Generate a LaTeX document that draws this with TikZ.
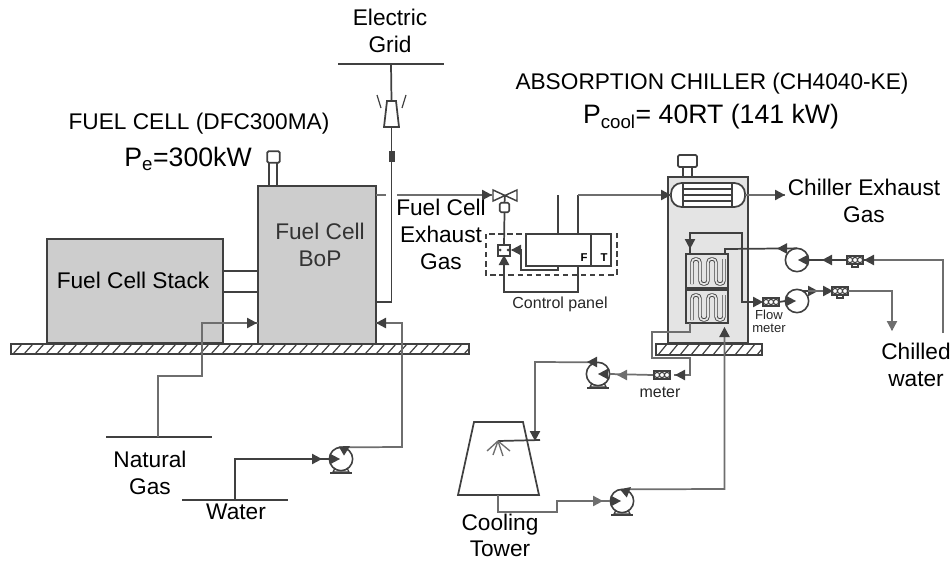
\documentclass[tikz,border=0pt]{standalone}
\usepackage{fontspec}
\setmainfont{Liberation Sans}
\usetikzlibrary{arrows.meta,calc}
\definecolor{pipedark}{HTML}{404040}
\definecolor{pipegrey}{HTML}{6E6E6E}
\definecolor{blockfill}{HTML}{CDCDCD}
\definecolor{chillfill}{HTML}{E4E4E4}
\tikzset{
  x=0.75pt,y=-0.75pt,
  pipe/.style={draw=pipedark,line width=1.3pt},
  pipeg/.style={draw=pipegrey,line width=1.3pt},
  thinp/.style={draw=pipedark,line width=1pt},
  blockbox/.style={draw=pipedark,line width=1.4pt,fill=blockfill,inner sep=0pt,outer sep=0pt},
  plainbox/.style={draw=pipedark,line width=1.3pt,fill=white,inner sep=0pt,outer sep=0pt},
  pumpc/.style={circle,draw=pipedark,line width=1.2pt,fill=white,inner sep=0pt,outer sep=0pt,minimum size=17.5pt},
  lab/.style={inner sep=0pt,align=center,text=black,font=\fontsize{17}{20.2}\selectfont},
  labline/.style={inner sep=0pt,text=black,font=\fontsize{17}{17}\selectfont,anchor=base},
  labbig/.style={inner sep=0pt,align=center,text=black,font=\fontsize{20}{24}\selectfont},
  labsmall/.style={inner sep=0pt,align=center,text=black!85,font=\fontsize{12}{12}\selectfont},
  labtiny/.style={inner sep=0pt,align=center,text=black!85,font=\fontsize{9.8}{9.5}\selectfont},
  coil/.style={draw=pipedark,line width=2.6pt,rounded corners=2.6pt},
  coilin/.style={draw=chillfill,line width=1.3pt,rounded corners=2.6pt},
}
\newcommand{\smalltip}[4][pipedark]{\fill[#1,shift={(#2,#3)},rotate=#4] (0,0) -- (-7.5pt,-4pt) -- (-7.5pt,4pt) -- cycle;}
\newcommand{\floorhatch}[4]{%
  \begin{scope}
    \clip (#1,#2) rectangle (#3,#4);
    \foreach \h in {-20,-9,...,800}{
      \draw[pipedark,line width=0.9pt] ({#1+\h},#4) -- ({#1+\h+9},#2);
    }
  \end{scope}
  \draw[pipedark,line width=1.3pt] (#1,#2) rectangle (#3,#4);
}
\newcommand{\pumpbase}[2]{%
  \draw[pipedark,line width=1pt] (#1-6,#2+9) -- (#1-8,#2+13) -- (#1+8,#2+13) -- (#1+6,#2+9);
  \draw[pipedark,line width=1.3pt] (#1-11,#2+14) -- (#1+11,#2+14);
}
\newcommand{\metersym}[2]{%
  \draw[pipedark,line width=1pt,fill=white] (#1-8,#2-4) rectangle (#1+8,#2+4);
  \foreach \m in {-5,0,5}{\draw[pipedark,line width=0.8pt] (#1+\m,#2) circle[radius=2.6];}
}
\begin{document}
\begin{tikzpicture}
\useasboundingbox (0,0) rectangle (952,560);

% floors
\floorhatch{11}{344}{469}{354}

% Fuel cell blocks
\node[blockbox,minimum width=132pt,minimum height=78pt] (stack) at (135,291) {};
\node[blockbox,minimum width=88.5pt,minimum height=118.5pt] (bop) at (317,265) {};
\draw[pipe] ($(stack.north east)+(0,32)$) -- ($(bop.north west)+(0,85)$);
\draw[pipe] ($(stack.north east)+(0,53)$) -- ($(bop.north west)+(0,106)$);
% chimney
\node[plainbox,minimum width=9.5pt,minimum height=8.5pt,rounded corners=1pt] (fccap) at (273.5,157) {};
\draw[pipe] (269,163) -- (269,186);
\draw[pipe] (277,163) -- (277,186);

\node[lab] (tstack) at (133,280) {Fuel Cell Stack};
\node[lab,text=black!80] (tbop) at (320,245) {Fuel Cell\\BoP};
\node[lab] (tfc) at (199,124) {FUEL CELL (DFC300MA)};
\node[labbig] (tpe) at (188,159) {P\textsubscript{e}=300kW};

% Electric grid
\node[lab] (tgrid) at (390,31) {Electric\\Grid};
\coordinate (gridl) at (338,64);
\coordinate (gridr) at (444,64);
\coordinate (gridm) at (391,64);
\draw[pipe] (gridl) -- (gridr);
\path[draw=pipedark,line width=1.3pt,fill=white] (387,101) -- (396,101) -- (399,127) -- (384,127) -- cycle;
\coordinate (trtop) at (391.5,101);
\coordinate (trbot) at (391.5,127);
\draw[pipedark,line width=0.9pt] (377,95) -- (381,108);
\draw[pipedark,line width=0.9pt] (406,95) -- (402,108);
\draw[pipe] (gridm) -- (trtop);
\coordinate (elin) at (bop.east |- 0,302);
\draw[pipe] (trbot) -- (391.5,302) -- (elin);
\draw[pipedark,line width=4.5pt] (391.5,151) -- (391.5,162);

% Fuel-cell exhaust line
\node[lab] (texh) at (441,234) {Fuel Cell\\Exhaust\\Gas};
\coordinate (bopex) at (bop.east |- 0,195);
\draw[pipeg] (bopex) -- (386,195);
\draw[pipeg] (397,195) -- (492,195);
\smalltip{492}{195}{0}

% three-way valve
\path[draw=pipedark,line width=1.1pt,fill=white] (493,190) -- (517,201) -- (517,190) -- (493,201) -- cycle;
\coordinate (vc) at (505,195);
\node[plainbox,minimum width=7pt,minimum height=7pt,rounded corners=1pt] (act) at (504.5,207.5) {};
\draw[pipe] (vc) -- (act.north);

% Control panel
\node[plainbox,minimum width=48.75pt,minimum height=24pt] (flowbox) at (558.5,250) {};
\node[plainbox,minimum width=15pt,minimum height=24pt] (tbox) at (601,250) {};
\draw[pipedark,line width=1.1pt,dash pattern=on 4pt off 2.8pt] (486,234) rectangle (617,275);
\node[font=\bfseries\fontsize{8.5}{9}\selectfont,inner sep=0pt] (tf) at (584,258) {F};
\node[font=\bfseries\fontsize{8.5}{9}\selectfont,inner sep=0pt] (tt) at (604,258) {T};
\node[plainbox,minimum width=8.5pt,minimum height=8pt] (posit) at (504,250.5) {};
\fill[pipedark] (500,250) circle[radius=1.5];
\fill[pipedark] (508,250) circle[radius=1.5];
\draw[pipe] (act.south) -- (posit.north);
\coordinate (tapa) at (558,195);
\coordinate (tapb) at (578,195);
\draw[pipe] (tapa) -- (tapa |- flowbox.north);
\draw[pipe] (tapb) -- (tapb |- flowbox.north);
\draw[pipe] (posit.south) -- (504,292) -- (578,292) -- (578,266);
\smalltip{504}{255}{90}
\draw[pipe] (558,266) -- (558,270) -- (521,270) -- (521,250) -- (512,250);
\smalltip{511}{250}{180}
\node[labsmall] (tcp) at (560,304) {Control panel};

% Chiller
\node[lab] (tabs) at (712,84) {ABSORPTION CHILLER (CH4040-KE)};
\node[labbig] (tpc) at (711,117) {P\textsubscript{cool}= 40RT (141 kW)};
\node[draw=pipedark,line width=1.3pt,fill=chillfill,inner sep=0pt,outer sep=0pt,minimum width=60pt,minimum height=124.5pt] (chiller) at (708,260) {};
\floorhatch{656}{344}{762}{355}
\node[plainbox,minimum width=14.25pt,minimum height=9pt,rounded corners=1pt] (chcap) at (687.5,161) {};
\draw[pipe] (683,167) -- (683,177);
\draw[pipe] (692,167) -- (692,177);
% exhaust heat-exchanger
\node[draw=pipedark,line width=1.3pt,fill=white,rounded corners=8pt,inner sep=0pt,outer sep=0pt,minimum width=55.5pt,minimum height=18pt] (hx) at (708,195) {};
\draw[pipe] (683,183) -- (683,207);
\draw[pipe] (732,183) -- (732,207);
\foreach \hy in {189,195,201}{\draw[thinp] (683,\hy) -- (732,\hy);}
\draw[pipeg] (tapb) -- (hx.west);
\smalltip{671}{195}{0}
\coordinate (chout) at (785,195);
\draw[pipeg] (hx.east) -- (chout);
\smalltip{785}{195}{0}
\node[lab] (tchex) at (864,201) {Chiller Exhaust\\Gas};

% coil boxes
\node[plainbox,fill=chillfill,minimum width=31.5pt,minimum height=25.5pt] (coila) at (707,271) {};
\node[plainbox,fill=chillfill,minimum width=31.5pt,minimum height=25pt] (coilb) at (707,306.5) {};
\foreach \cy in {0,36}{
  \draw[coil] (692,{284+\cy}) -- (692,{259+\cy}) -- (700,{259+\cy}) -- (700,{284+\cy}) -- (708,{284+\cy}) -- (708,{259+\cy}) -- (716,{259+\cy}) -- (716,{284+\cy}) -- (724,{284+\cy}) -- (724,{259+\cy});
  \draw[coilin] (692,{284+\cy}) -- (692,{259+\cy}) -- (700,{259+\cy}) -- (700,{284+\cy}) -- (708,{284+\cy}) -- (708,{259+\cy}) -- (716,{259+\cy}) -- (716,{284+\cy}) -- (724,{284+\cy}) -- (724,{259+\cy});
}

% chilled water loop
\node[pumpc] (pch) at (797,260) {};
\node[pumpc] (pfl) at (797,301) {};
\coordinate (chr) at (943,333);
\draw[pipeg] (chr) -- (943,260) -- (868,260);
\draw[pipe] (868,260) -- (pch.east);
\metersym{855}{260}
\draw[pipedark,line width=1pt] (852,264) -- (852,267) -- (858,267) -- (858,264);
\smalltip{864}{260}{180}
\smalltip{822}{260}{180}
\smalltip{798}{260}{180}
\draw[pipe] (pch.north) -- (725,249) -- (725,254);
\smalltip{777}{248.5}{180}
% upper loop
\draw[pipe] (coila.north -| 690,0) -- (690,233) -- (742,233) -- (742,302) -- (760,302);
\smalltip{690}{249}{-90}
\smalltip{763}{302}{0}
\metersym{771}{302}
\draw[pipe] (779,302) -- (pfl.west);
\smalltip{796}{301}{0}
\draw[pipe] ($(pfl.center)+(6,-10)$) -- (808,291);
\smalltip{818}{291}{0}
\draw[pipeg] (808,291) -- (827,291);
\metersym{840}{291}
\draw[pipedark,line width=1pt] (837,295) -- (837,298) -- (843,298) -- (843,295);
\smalltip{833}{291}{0}
\coordinate (chs) at (892,330);
\draw[pipeg] (848,291) -- (892,291) -- (chs);
\smalltip[pipegrey]{892}{331}{-90}
\node[labtiny] (tflow) at (769,321) {Flow\\meter};
\node[lab] (tch) at (916,365) {Chilled\\water};

% cooling-water loop
\node[pumpc] (pcw) at (598,374) {};\pumpbase{598}{374}
\node[pumpc] (pct) at (622,501) {};\pumpbase{622}{501}
\node[pumpc] (pwa) at (341,459) {};\pumpbase{341}{459}
\draw[pipeg] (690,323) -- (690,332) -- (652,332) -- (652,358) -- (690,358) -- (690,375) -- (674,375);
\metersym{662}{375}
\smalltip{675}{375}{180}
\draw[pipeg] (653,375) -- (pcw.east);
\smalltip[pipegrey]{617}{375}{180}
\smalltip{598}{374}{180}
\draw[pipeg] ($(pcw.north)+(-2,0)$) -- (535,362) -- (535,437);
\smalltip{587}{362}{180}
\node[labsmall] (tmeter) at (660,392) {meter};

% cooling tower
\path[draw=pipedark,line width=1.3pt] (474,422) -- (523,422) -- (539,495) -- (458,495) -- cycle;
\coordinate (towerb) at (498,495);
\coordinate (spray) at (498,441);
\draw[pipe] (540,440) -- (spray);
\smalltip{535}{441}{-90}
\foreach \sx/\sy in {487/451,493/455,503/456,510/451}{\draw[pipeg,line width=1pt] (spray) -- (\sx,\sy);}
\draw[pipeg] (towerb) -- (498,512) -- (557,512) -- (557,501) -- (pct.west);
\smalltip[pipegrey]{603}{501}{0}
\smalltip{621}{501}{0}
\draw[pipeg] ($(pct.north)+(2,0)$) -- (724.5,489) -- (724.5,330);
\smalltip{631}{487}{40}
\smalltip{724.5}{327}{90}
\node[labline] (tcta) at (500,530) {Cooling};
\node[labline] (tctb) at (500,556) {Tower};

% natural gas
\coordinate (ngl) at (106,437);
\coordinate (ngr) at (212,437);
\draw[pipe] (ngl) -- (ngr);
\coordinate (ngm) at (158,437);
\draw[pipeg] (ngm) -- (158,376) -- (202,376) -- (202,323) -- (bop.west |- 0,323);
\smalltip{257}{323}{0}
\node[lab] (tng) at (150,473) {Natural\\Gas};

% water
\coordinate (wl) at (182,500);
\coordinate (wr) at (288,500);
\draw[pipe] (wl) -- (wr);
\coordinate (wm) at (235,500);
\draw[pipe] (wm) -- (235,459) -- (pwa.west);
\smalltip{322}{459}{0}
\smalltip{340}{459}{0}
\draw[pipeg] ($(pwa.north)+(2,0)$) -- (402,447) -- (402,323) -- (bop.east |- 0,323);
\smalltip{350}{446}{30}
\smalltip{376}{323}{180}
\node[lab] (twa) at (236,512) {Water};
\end{tikzpicture}
\end{document}
